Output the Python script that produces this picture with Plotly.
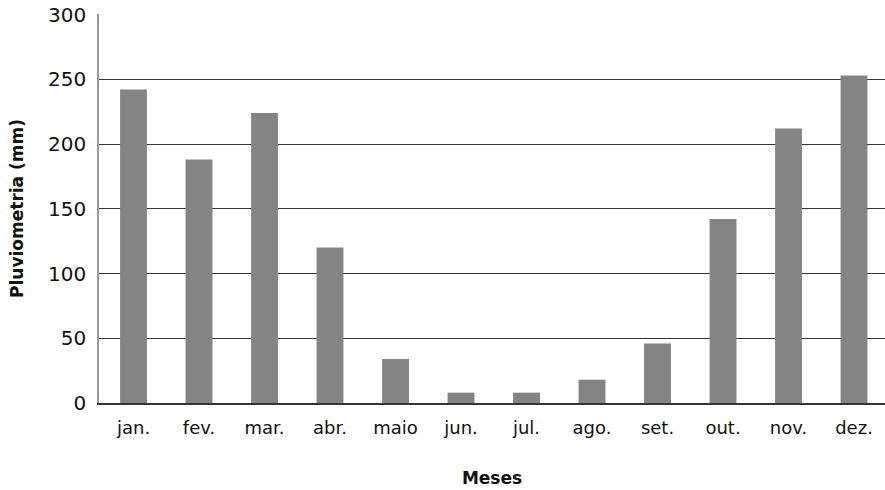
import plotly.graph_objects as go

meses = ["jan.", "fev.", "mar.", "abr.", "maio", "jun.", "jul.", "ago.", "set.", "out.", "nov.", "dez."]
pluviometria = [242, 188, 224, 120, 34, 8, 8, 18, 46, 142, 212, 253]
y_ticks = [0, 50, 100, 150, 200, 250, 300]

fig = go.Figure(go.Bar(x=meses, y=pluviometria, marker=dict(color="#848484", line=dict(width=0))))

fig.update_layout(
    width=885, height=490,
    margin=dict(l=99, r=0, t=14, b=87),
    plot_bgcolor="white", paper_bgcolor="white",
    bargap=0.59,
    font=dict(family="DejaVu Sans, sans-serif", color="#111", size=19),
    showlegend=False,
)
fig.update_xaxes(
    automargin=False,
    range=[-0.527, 11.473],
    title=dict(text="<b>Meses</b>", font=dict(size=17), standoff=35),
    showline=True, linecolor="#333", linewidth=1.5,
    ticks="outside", ticklen=8, tickcolor="rgba(0,0,0,0)", tickfont=dict(size=18),
)
fig.update_yaxes(
    automargin=False,
    title=dict(text="<b>Pluviometria (mm)</b>", font=dict(size=17), standoff=20),
    range=[0, 300.4], tickvals=y_ticks,
    showgrid=True, gridcolor="#333", gridwidth=1.2,
    showline=True, linecolor="#999", linewidth=1.5,
    zeroline=False, ticks="outside", ticklen=7, tickcolor="rgba(0,0,0,0)", tickfont=dict(size=20),
)

fig.write_html("out.html", config={"displayModeBar": False},
               post_script="document.body.style.margin='0';")
